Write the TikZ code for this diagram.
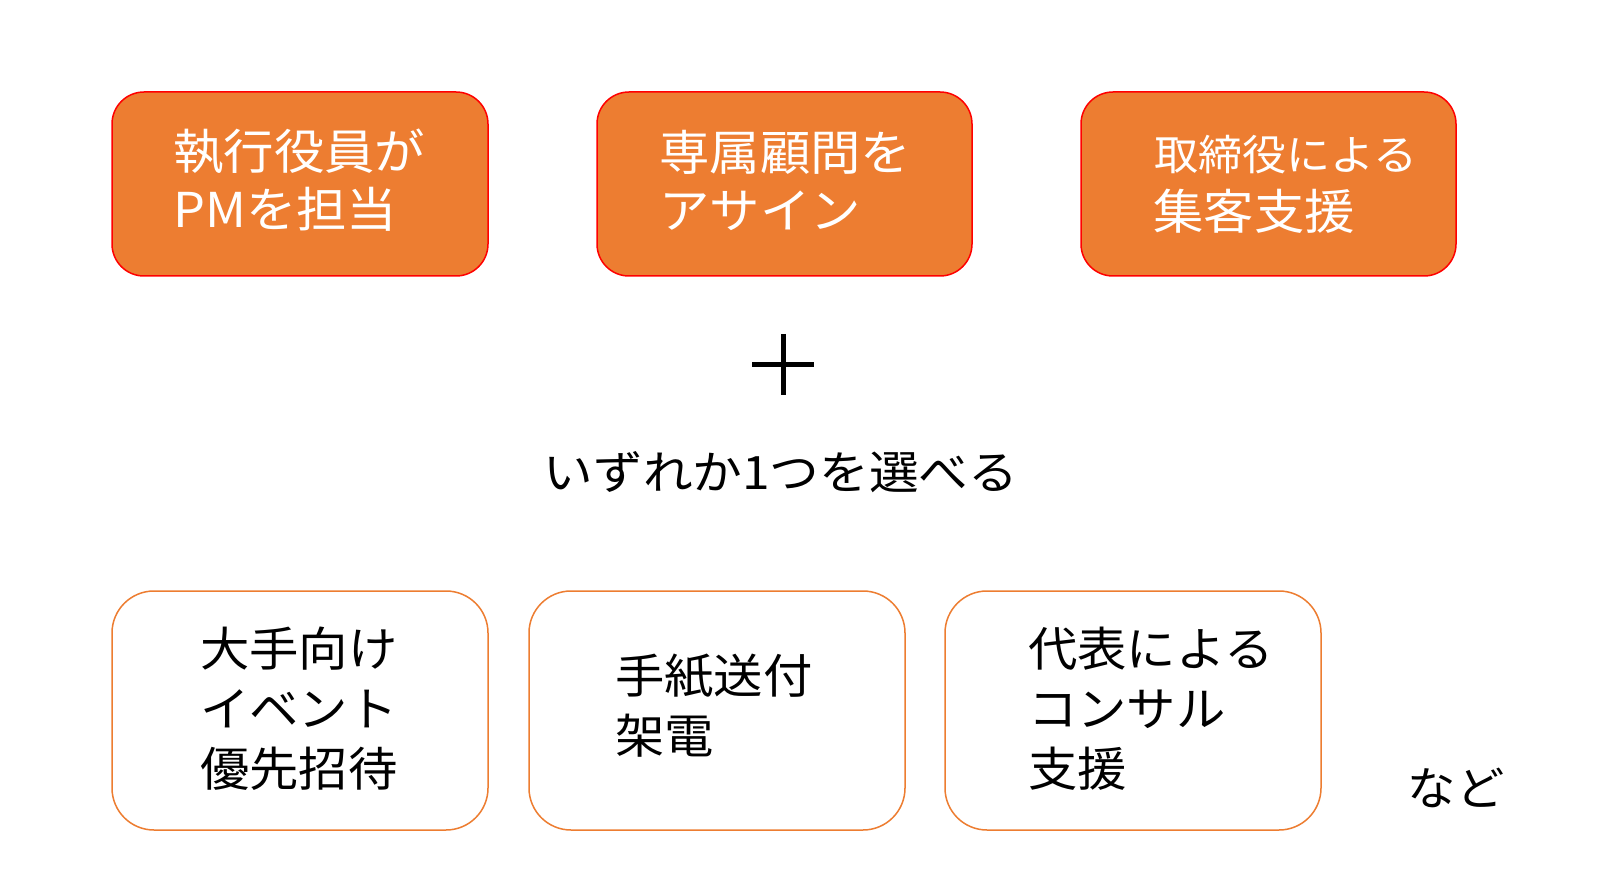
\documentclass[tikz,border=0pt]{standalone}
\usepackage{fontspec}
\setmainfont{Noto Sans CJK JP}[FakeStretch=1.05]
\newfontfamily\widefont{Noto Sans CJK JP}[FakeStretch=1.08]
\definecolor{boxorange}{HTML}{ED7D31}
\definecolor{boxred}{HTML}{FF0000}
\begin{document}
\begin{tikzpicture}[x=1pt,y=-1pt,
  topbox/.style={draw=boxred,line width=1.5pt,fill=boxorange,rounded corners=32pt},
  botbox/.style={draw=boxorange,line width=1.5pt,fill=white,rounded corners=42pt},
  toptext/.style={anchor=west,align=left,text=white,inner sep=0pt,font=\fontsize{48}{58}\selectfont},
  bottext/.style={anchor=west,align=left,text=black,inner sep=0pt,font=\fontsize{47}{60}\selectfont},
  plain/.style={inner sep=0pt,text=black,font=\fontsize{46}{56}\selectfont}]
\useasboundingbox (0,0) rectangle (1600,874);
\fill[white] (0,0) rectangle (1600,874);
% top boxes
\draw[topbox] (112,92) rectangle (488,276);
\draw[topbox] (597,92) rectangle (972,276);
\draw[topbox] (1081,92) rectangle (1456,276);
\node[toptext] (t1) at (173,180) {執行役員が\\PMを担当};
\node[toptext] (t2) at (659,180) {専属顧問を\\アサイン};
\node[toptext] (t3a) at (1154,155) {\fontsize{42}{50}\selectfont 取締役による};
\node[toptext] (t3b) at (1153,211) {集客支援};
% plus
\coordinate (pl) at (752,364);
\coordinate (pr) at (814,364);
\coordinate (pt) at (783,334);
\coordinate (pb) at (783,395);
\draw[line width=5pt] (pl) -- (pr);
\draw[line width=5pt] (pt) -- (pb);
\node[plain,font=\widefont\fontsize{46}{56}\selectfont] (choose) at (781,472) {いずれか1つを選べる};
% bottom boxes
\draw[botbox] (112,591) rectangle (488,830);
\draw[botbox] (529,591) rectangle (905,830);
\draw[botbox] (945,591) rectangle (1321,830);
\node[bottext] (b1) at (200,709) {大手向け\\イベント\\優先招待};
\node[bottext] (b2) at (615,706) {手紙送付\\架電};
\node[bottext] (b3) at (1028,709) {代表による\\コンサル\\支援};
\node[plain] (nado) at (1456,788) {など};
\end{tikzpicture}
\end{document}
